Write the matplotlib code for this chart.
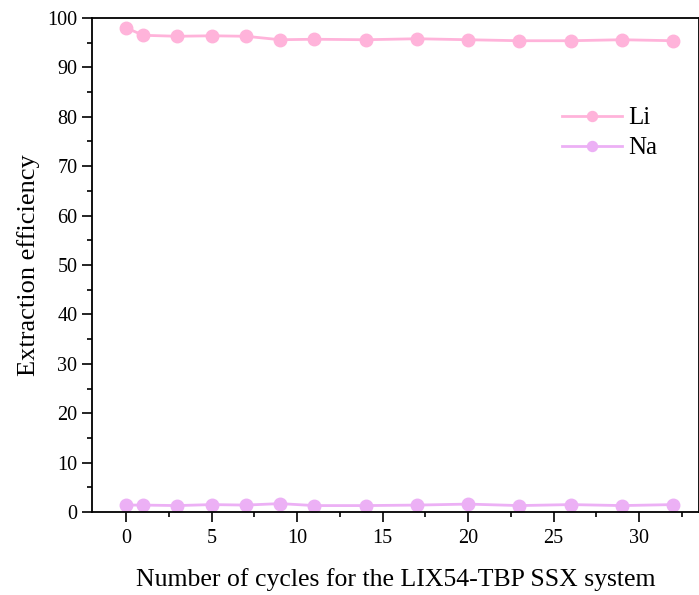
import matplotlib
matplotlib.use('Agg')
import matplotlib.pyplot as plt
from matplotlib.ticker import MultipleLocator

cycles = [0, 1, 3, 5, 7, 9, 11, 14, 17, 20, 23, 26, 29, 32]
li = [98.0, 96.5, 96.3, 96.4, 96.3, 95.6, 95.7, 95.6, 95.8, 95.6, 95.4, 95.4, 95.6, 95.4]
na = [1.4, 1.4, 1.3, 1.5, 1.4, 1.7, 1.3, 1.3, 1.4, 1.6, 1.3, 1.5, 1.3, 1.5]

plt.rcParams['font.family'] = ['Liberation Serif', 'DejaVu Serif']

fig = plt.figure(figsize=(6.99, 5.95), dpi=100)
ax = fig.add_axes([92 / 699, 83 / 595, 607 / 699, 494 / 595])

ax.plot(cycles, li, '-o', color='#ffb3da', lw=2, ms=9, label='Li')
ax.plot(cycles, na, '-o', color='#ecb0f5', lw=2, ms=9, label='Na')

ax.set_xlim(-2, 33.5)
ax.set_ylim(0, 100)
ax.xaxis.set_major_locator(MultipleLocator(5))
ax.xaxis.set_minor_locator(MultipleLocator(2.5))
ax.yaxis.set_major_locator(MultipleLocator(10))
ax.yaxis.set_minor_locator(MultipleLocator(5))
ax.tick_params(which='both', direction='out', width=1.2, labelsize=14.5)
ax.tick_params(which='major', length=7)
ax.tick_params(which='minor', length=3.5)
ax.tick_params(axis='x', pad=5)
for s in ax.spines.values():
    s.set_linewidth(1.3)

ax.set_xlabel('Number of cycles for the LIX54-TBP SSX system', fontsize=18.5, labelpad=15)
ax.set_ylabel('Extraction efficiency', fontsize=19, labelpad=5)

ax.legend(loc='upper left', bbox_to_anchor=(562 / 699, 1 - 107 / 595), bbox_transform=fig.transFigure,
          frameon=False, fontsize=18, markerscale=0.8, handlelength=2.4, handletextpad=0.25,
          labelspacing=0.3, borderpad=0, borderaxespad=0)

fig.savefig('out.png', dpi=100)
